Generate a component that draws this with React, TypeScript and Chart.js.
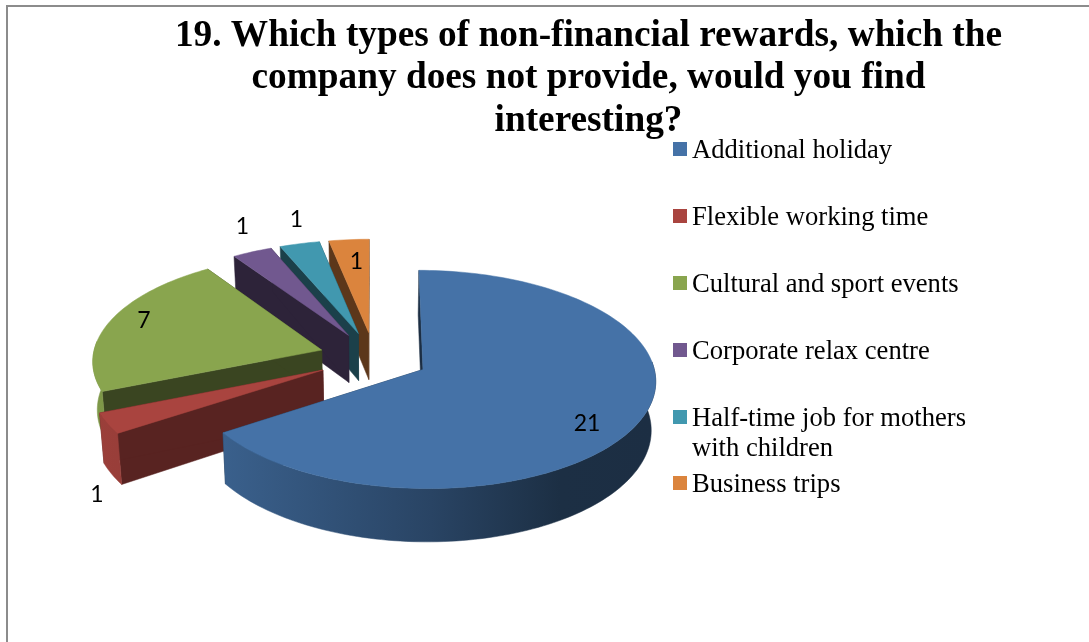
import React, { useEffect, useRef } from "react";
import { Chart, registerables } from "chart.js";

Chart.register(...registerables);

const categories = [
  "Additional holiday",
  "Flexible working time",
  "Cultural and sport events",
  "Corporate relax centre",
  "Half-time job for mothers with children",
  "Business trips",
];
const legendLines = [
  ["Additional holiday"],
  ["Flexible working time"],
  ["Cultural and sport events"],
  ["Corporate relax centre"],
  ["Half-time job for mothers", "with children"],
  ["Business trips"],
];
const answers = [21, 1, 7, 1, 1, 1];
const colors = ["#4572A7", "#A9443F", "#89A54E", "#71588F", "#4198AF", "#DB843D"];
const faceShades = [0.4, 0.52, 0.42, 0.4, 0.42, 0.42];
const explodes = [0.24, 0.25, 0.24, 0.24, 0.24, 0.24];
const titleLines = [
  "19. Which types of non-financial rewards, which the",
  "company does not provide, would you find",
  "interesting?",
];
const labelPositions = [
  [587, 424],
  [97, 495],
  [144, 321],
  [242.5, 227],
  [296.5, 220],
  [356.5, 262],
];
const legendRows = [149, 216, 283, 350, 417, 483];
const paintOrder = [5, 4, 3, 2, 1, 0];

// projection of the exploded pie
const CX = 374;
const CY = 357.4;
const RX = 229;
const RY = 106;
const PERSP = 0.09;
const DEPTH = 48;
const BOTTOM_SHRINK = 0.016;

function project(u: number, v: number, z: number): [number, number] {
  const w = 1 - PERSP * v;
  return [CX + ((RX * u) / w) * (1 - BOTTOM_SHRINK * z), CY + (RY * v) / w + (DEPTH * z) / w];
}

function shade(hex: string, f: number): string {
  const n = parseInt(hex.slice(1), 16);
  const c = [(n >> 16) & 255, (n >> 8) & 255, n & 255].map((x) => Math.round(x * f));
  return `rgb(${c[0]},${c[1]},${c[2]})`;
}

function poly(ctx: CanvasRenderingContext2D, pts: [number, number][], fill: string | CanvasGradient) {
  ctx.beginPath();
  pts.forEach((p, i) => (i ? ctx.lineTo(p[0], p[1]) : ctx.moveTo(p[0], p[1])));
  ctx.closePath();
  ctx.fillStyle = fill;
  ctx.fill();
  ctx.strokeStyle = fill;
  ctx.lineWidth = 0.5;
  ctx.stroke();
}

const pie3d = {
  id: "pie3d",
  beforeDatasetDraw(chart: any) {
    const ctx: CanvasRenderingContext2D = chart.ctx;
    const arcs = chart.getDatasetMeta(0).data;
    for (const i of paintOrder) {
      const el = arcs[i];
      const a0 = el.startAngle;
      const a1 = el.endAngle;
      const mid = (a0 + a1) / 2;
      const ou = explodes[i] * Math.cos(mid);
      const ov = explodes[i] * Math.sin(mid);
      const col = colors[i];
      const steps = Math.max(6, Math.round((a1 - a0) * 40));
      const angles: number[] = [];
      for (let s = 0; s <= steps; s++) angles.push(a0 + ((a1 - a0) * s) / steps);
      const rimAt = (a: number, z: number) => project(ou + Math.cos(a), ov + Math.sin(a), z);
      const top = angles.map((a) => rimAt(a, 0));
      const apexT = project(ou, ov, 0);
      const apexB = project(ou, ov, 1);
      const face = shade(col, faceShades[i]);
      // cut faces, behind the rim
      poly(ctx, [apexT, top[0], rimAt(a0, 1), apexB], face);
      poly(ctx, [apexT, top[steps], rimAt(a1, 1), apexB], face);
      // outer wall: only the part that faces the viewer
      const front = angles.filter((a) => Math.sin(a) > -0.09);
      if (front.length > 1) {
        const g = ctx.createLinearGradient(95, 0, 655, 0);
        g.addColorStop(0, shade(col, 0.92));
        g.addColorStop(0.23, shade(col, 0.84));
        g.addColorStop(0.6, shade(col, 0.6));
        g.addColorStop(0.83, shade(col, 0.41));
        g.addColorStop(1, shade(col, 0.4));
        poly(
          ctx,
          [...front.map((a) => rimAt(a, 0)), ...front.slice().reverse().map((a) => rimAt(a, 1))],
          g
        );
      }
      // top surface
      poly(ctx, [apexT, ...top], col);
    }
    // value labels
    ctx.fillStyle = "#000";
    ctx.font = "23px Lato";
    ctx.textAlign = "center";
    ctx.textBaseline = "middle";
    answers.forEach((v, i) => {
      ctx.fillText(String(v), labelPositions[i][0], labelPositions[i][1]);
    });
    return false;
  },
};

const sideLegend = {
  id: "sideLegend",
  afterDraw(chart: any) {
    const ctx: CanvasRenderingContext2D = chart.ctx;
    ctx.save();
    ctx.font = "26.6px 'Liberation Serif'";
    ctx.textAlign = "left";
    ctx.textBaseline = "middle";
    legendLines.forEach((lines, i) => {
      const y = legendRows[i];
      ctx.fillStyle = colors[i];
      ctx.fillRect(673, y - 7, 14, 14);
      ctx.fillStyle = "#000";
      lines.forEach((t, j) => ctx.fillText(t, 692, y + 2 + j * 30));
    });
    ctx.restore();
  },
};

const frame = {
  id: "frame",
  beforeDraw(chart: any) {
    const ctx: CanvasRenderingContext2D = chart.ctx;
    ctx.save();
    ctx.strokeStyle = "#8c8c8c";
    ctx.lineWidth = 2;
    ctx.beginPath();
    ctx.moveTo(7, 642);
    ctx.lineTo(7, 6);
    ctx.lineTo(1089, 6);
    ctx.stroke();
    ctx.restore();
  },
};

export default function App() {
  const ref = useRef<HTMLCanvasElement>(null);
  useEffect(() => {
    document.body.style.margin = "0";
    const chart = new Chart(ref.current!, {
      type: "pie",
      data: {
        labels: categories,
        datasets: [{ data: answers, backgroundColor: colors, borderWidth: 0 }],
      },
      options: {
        responsive: false,
        animation: false,
        layout: { padding: { left: 88, top: 15 } },
        plugins: {
          legend: { display: false },
          tooltip: { enabled: false },
          title: {
            display: true,
            text: titleLines,
            color: "#000",
            font: { family: "'Liberation Serif'", size: 37.3, weight: "bold", lineHeight: 1.14 },
            padding: 0,
          },
        },
      },
      plugins: [frame, pie3d, sideLegend],
    } as any);
    return () => chart.destroy();
  }, []);
  return <canvas ref={ref} width={1089} height={642} style={{ display: "block" }} />;
}
